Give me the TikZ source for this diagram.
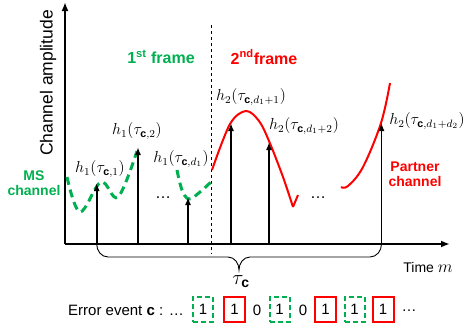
\documentclass[tikz,border=0pt]{standalone}
\usepackage{amsmath}
\usepackage{graphicx}
\usepackage{fontspec}
\setmainfont{Liberation Sans}
\usetikzlibrary{arrows.meta,calc}
\definecolor{pgreen}{RGB}{0,176,80}
\definecolor{pred}{RGB}{255,0,0}
\newcommand{\cb}{\text{\bfseries c}}
\newcommand{\hlab}[1]{\scalebox{1.33}{$#1$}}
\begin{document}
\begin{tikzpicture}[x=1pt,y=-1pt,
  axis/.style={line width=2.2pt,-{Latex[length=9pt,width=7pt]}},
  impulse/.style={line width=1.8pt,-{Latex[length=8pt,width=6pt]}},
  msch/.style={pgreen,line width=3pt,dash pattern=on 8pt off 5pt},
  partner/.style={pred,line width=2pt},
  lbl/.style={inner sep=0pt,font=\fontsize{12}{14}\selectfont},
  frm/.style={inner sep=0pt,font=\fontsize{16}{18}\selectfont\bfseries},
  chn/.style={inner sep=0pt,align=center,font=\fontsize{14}{15}\selectfont\bfseries},
  bit/.style={inner sep=0pt,font=\fontsize{15}{18}\selectfont},
  gbox/.style={bit,draw=pgreen,line width=2pt,dash pattern=on 5pt off 3pt,minimum width=20pt,minimum height=25pt},
  rbox/.style={bit,draw=pred,line width=2pt,minimum width=21pt,minimum height=25pt}]
\useasboundingbox (0,0) rectangle (467,332);
% axes
\coordinate (O) at (65,244);
\coordinate (ytop) at (65,2);
\coordinate (xend) at (450,244);
\draw[axis] (O) -- (ytop);
\draw[axis] (O) -- (xend);
\node[rotate=90,inner sep=0pt,font=\fontsize{17.5}{19}\selectfont] (ylab) at (48,83) {Channel amplitude};
\node[inner sep=0pt,font=\fontsize{14}{16}\selectfont,anchor=base] (xlab) at (428,272) {Time \scalebox{1.2}{$m$}};
% frame separator
\coordinate (s1) at (211.5,25);
\coordinate (s2) at (211.5,254);
\draw[dashed,line width=1pt] (s1) -- (s2);
\node[frm,text=pgreen] (f1) at (161,57) {1\textsuperscript{st} frame};
\node[frm,text=pred] (f2) at (264,57) {2\textsuperscript{nd}frame};
% channels
\draw[msch] plot[smooth,tension=0.6] coordinates {(67,177) (80,212) (101,182) (118,197) (137,151)};
\draw[msch] plot[smooth,tension=0.6] coordinates {(177,170) (182,190) (189,199) (200,192) (212,181)};
\draw[partner] plot[smooth,tension=0.55] coordinates {(212,170) (230,124) (246,111) (259,121) (269,141) (283,177) (293,207)};
\draw[partner] (293,207) -- (298,195);
\draw[partner] plot[smooth,tension=0.6] coordinates {(341,187) (348,186) (363,167) (381,123) (390,83)};
\node[chn,text=pgreen] (ms) at (34,183) {MS\\channel};
\node[chn,text=pred] (pc) at (415,174) {Partner\\channel};
% impulses
\foreach \i/\x/\y in {1/96.7/183,2/138/147,3/188/197,4/231/123,5/269/142,6/381.5/123}{
  \coordinate (b\i) at (\x,244);
  \coordinate (t\i) at (\x,\y);
  \draw[impulse] (b\i) -- (t\i);
}
\node[lbl] (h1) at (100,169) {\hlab{h_1(\tau_{\cb,1})}};
\node[lbl] (h2) at (137,131) {\hlab{h_1(\tau_{\cb,2})}};
\node[lbl] (h3) at (181,159) {\hlab{h_1(\tau_{\cb,d_1})}};
\node[lbl] (h4) at (251,97) {\hlab{h_2(\tau_{\cb,d_1+1})}};
\node[lbl] (h5) at (304,126) {\hlab{h_2(\tau_{\cb,d_1+2})}};
\node[lbl] (h6) at (427,121) {\hlab{h_2(\tau_{\cb,d_1+d_2})}};
\node[inner sep=0pt,font=\fontsize{16}{18}\selectfont] (d1) at (163,198) {\dots};
\node[inner sep=0pt,font=\fontsize{16}{18}\selectfont] (d2) at (318,198) {\dots};
% brace
\coordinate (tip) at (239,270);
\draw[line width=0.9pt] (b1) to[out=-90,in=180] (108,257) -- (228,257) to[out=0,in=90] (tip)
  to[out=90,in=180] (250,257) -- (370,257) to[out=0,in=-90] (b6);
\node[inner sep=0pt,font=\fontsize{20}{22}\selectfont] (tau) at (241,282) {$\tau_{\cb}$};
% error event
\node[bit,anchor=west] (ee) at (68,310) {Error event \textbf{c} : \dots};
\node[gbox] (e1) at (203,309.5) {1};
\node[rbox] (e2) at (234.5,309.5) {1};
\node[bit] (e3) at (257,310) {0};
\node[gbox] (e4) at (279.5,309.5) {1};
\node[bit] (e5) at (303,310) {0};
\node[rbox] (e6) at (325.5,309.5) {1};
\node[gbox] (e7) at (354.5,309.5) {1};
\node[rbox] (e8) at (383,309.5) {1};
\node[bit] (e9) at (409,311) {\dots};
\end{tikzpicture}
\end{document}
